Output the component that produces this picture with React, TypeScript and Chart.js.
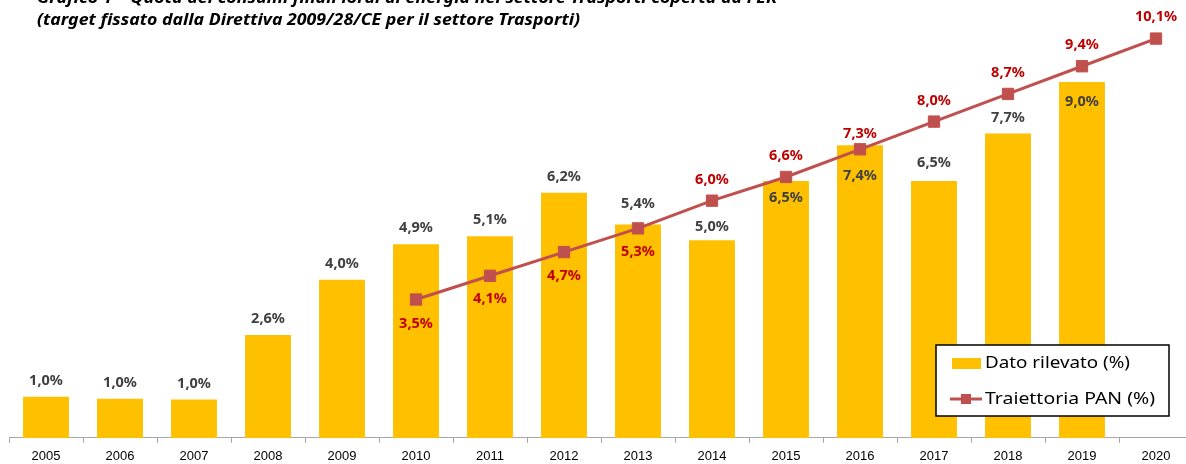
import { useEffect, useRef } from 'react';
import { Chart, registerables } from 'chart.js';

Chart.register(...registerables);

const years = ['2005', '2006', '2007', '2008', '2009', '2010', '2011', '2012', '2013', '2014', '2015', '2016', '2017', '2018', '2019', '2020'];
const datoRilevato = [1.04, 0.99, 0.97, 2.6, 4.0, 4.9, 5.1, 6.2, 5.4, 5.0, 6.5, 7.4, 6.5, 7.7, 9.0, null];
const traiettoriaPAN = [null, null, null, null, null, 3.5, 4.1, 4.7, 5.3, 6.0, 6.6, 7.3, 8.0, 8.7, 9.4, 10.1];
const seriesLabels = ['Dato rilevato (%)', 'Traiettoria PAN (%)'];
const titleLine1 = 'Grafico 1 – Quota dei consumi finali lordi di energia nel settore Trasporti coperta da FER';
const titleLine2 = '(target fissato dalla Direttiva 2009/28/CE per il settore Trasporti)';

// label placement (pixel offsets from the mark, style only)
const barLabelDy = [-16, -16, -16, -16, -16, -16, -16, -16, -21, -13, 17, 31, -18, -16, 20, 0];
const lineLabelDy = [0, 0, 0, 0, 0, 24, 23, 24, 24, -21, -21, -15, -21, -21, -21, -22];

const BAR_COLOR = '#FFC000';
const LINE_COLOR = '#C0504D';
const LINE_LABEL_COLOR = '#C00000';
const BAR_LABEL_COLOR = '#404040';

const fmt = (v: number) => v.toFixed(1).replace('.', ',') + '%';

function fitText(ctx: CanvasRenderingContext2D, text: string, x: number, y: number, w: number) {
  const m = ctx.measureText(text).width;
  ctx.save();
  ctx.translate(x, y);
  ctx.scale(w / m, 1);
  ctx.textAlign = 'left';
  ctx.fillText(text, 0, 0);
  ctx.restore();
}

const decorPlugin = {
  id: 'decor',
  afterDatasetsDraw(chart: any) {
    const ctx: CanvasRenderingContext2D = chart.ctx;
    ctx.save();
    ctx.textAlign = 'center';
    ctx.textBaseline = 'middle';
    // bar labels
    const barMeta = chart.getDatasetMeta(1);
    ctx.font = 'bold 14.5px "Noto Sans"';
    ctx.fillStyle = BAR_LABEL_COLOR;
    datoRilevato.forEach((v, i) => {
      if (v == null) return;
      const el = barMeta.data[i];
      ctx.fillText(fmt(v), el.x, el.y + barLabelDy[i]);
    });
    // line labels
    const lineMeta = chart.getDatasetMeta(0);
    ctx.fillStyle = LINE_LABEL_COLOR;
    traiettoriaPAN.forEach((v, i) => {
      if (v == null) return;
      const el = lineMeta.data[i];
      ctx.fillText(fmt(v), el.x, el.y + lineLabelDy[i]);
    });
    ctx.restore();
  },
  afterDraw(chart: any) {
    const ctx: CanvasRenderingContext2D = chart.ctx;
    ctx.save();
    // titles
    ctx.fillStyle = '#000';
    ctx.textBaseline = 'middle';
    ctx.font = 'italic bold 16px "Noto Sans"';
    fitText(ctx, titleLine1, 37, -2, 740);
    fitText(ctx, titleLine2, 37, 20, 543);
    // legend box
    const bx = 936, by = 345, bw = 233, bh = 71;
    ctx.fillStyle = '#FFFFFF';
    ctx.fillRect(bx, by, bw, bh);
    ctx.strokeStyle = '#000';
    ctx.lineWidth = 1.5;
    ctx.strokeRect(bx, by, bw, bh);
    // item 1
    ctx.fillStyle = BAR_COLOR;
    ctx.fillRect(952, 358, 29, 11);
    ctx.fillStyle = '#000';
    ctx.font = '17px "Noto Sans"';
    fitText(ctx, seriesLabels[0], 985, 363, 145);
    // item 2
    ctx.strokeStyle = LINE_COLOR;
    ctx.lineWidth = 3;
    ctx.beginPath();
    ctx.moveTo(950, 399);
    ctx.lineTo(982, 399);
    ctx.stroke();
    ctx.fillStyle = LINE_COLOR;
    ctx.fillRect(961, 394, 10, 10);
    ctx.fillStyle = '#000';
    fitText(ctx, seriesLabels[1], 985, 399, 170);
    ctx.restore();
  },
};

export default function App() {
  const ref = useRef<HTMLCanvasElement | null>(null);
  useEffect(() => {
    document.body.style.margin = '0';
    const canvas = ref.current!;
    const chart = new Chart(canvas, {
      type: 'bar',
      data: {
        labels: years,
        datasets: [
          {
            type: 'line',
            label: seriesLabels[1],
            data: traiettoriaPAN,
            borderColor: LINE_COLOR,
            backgroundColor: LINE_COLOR,
            borderWidth: 3,
            pointStyle: 'rect',
            pointRadius: 8,
            pointBorderWidth: 1,
            pointBackgroundColor: LINE_COLOR,
            pointBorderColor: LINE_COLOR,
            tension: 0,
            clip: false,
            order: 0,
          } as any,
          {
            type: 'bar',
            label: seriesLabels[0],
            data: datoRilevato,
            backgroundColor: BAR_COLOR,
            borderWidth: 0,
            barPercentage: 0.62,
            categoryPercentage: 1.0,
            order: 1,
          } as any,
        ],
      },
      options: {
        responsive: false,
        animation: false,
        devicePixelRatio: 1,
        layout: { autoPadding: false, padding: { left: 9, right: 1, top: 3, bottom: -6.5 } },
        plugins: { legend: { display: false }, tooltip: { enabled: false }, title: { display: false } },
        scales: {
          x: {
            grid: { offset: true, drawOnChartArea: false, drawTicks: true, tickLength: 5, color: '#A6A6A6' },
            border: { color: '#A6A6A6', width: 1 },
            ticks: {
              color: '#000',
              font: { family: '"Liberation Sans"', size: 13 },
              padding: 6,
              maxRotation: 0,
              autoSkip: false,
            },
          },
          y: { display: false, min: 0, max: 11 },
        },
      },
      plugins: [decorPlugin],
    });
    return () => chart.destroy();
  }, []);
  return (
    <div style={{ position: 'absolute', left: 0, top: 0, width: 1186, height: 464, overflow: 'hidden' }}>
      <canvas ref={ref} width={1194} height={464} style={{ display: 'block', width: 1194, height: 464 }} />
    </div>
  );
}
